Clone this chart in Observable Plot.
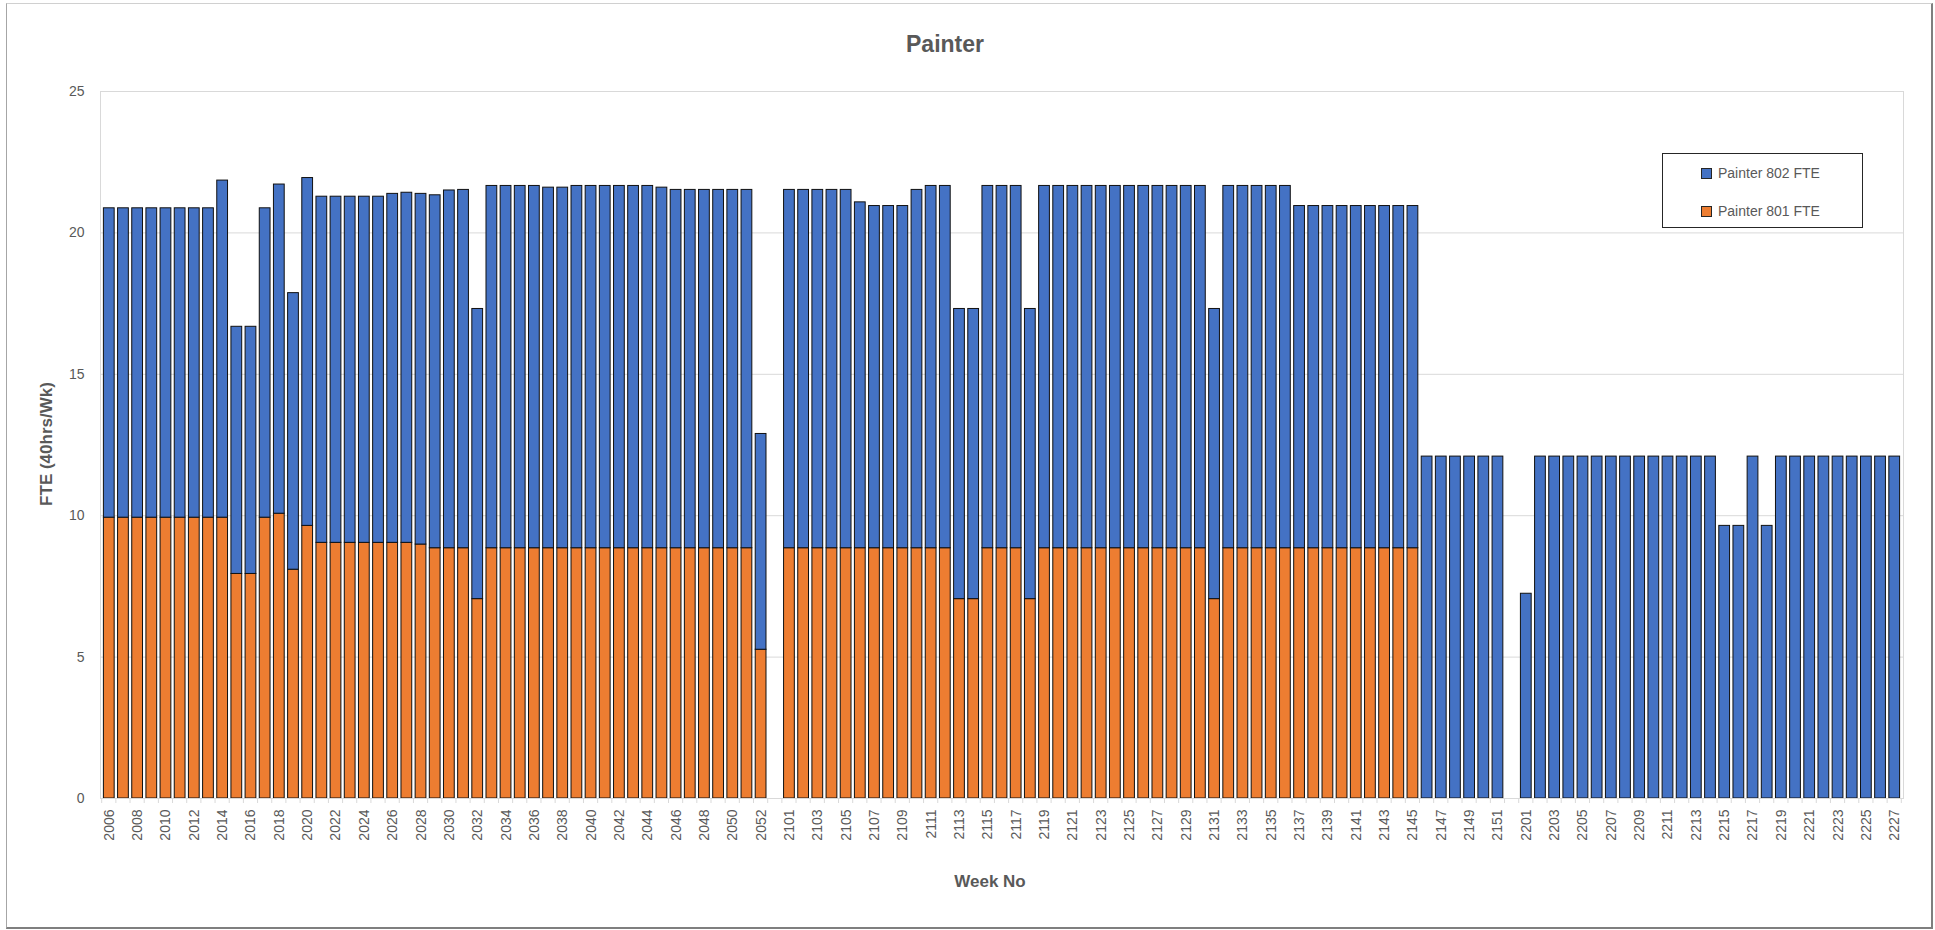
<!DOCTYPE html>
<html>
<head>
<meta charset="utf-8">
<script src="https://cdn.jsdelivr.net/npm/d3@7"></script>
<script src="https://cdn.jsdelivr.net/npm/@observablehq/plot@0.6"></script>
<style>
  html, body { margin: 0; padding: 0; background: #fff; }
  body { width: 1935px; height: 930px; overflow: hidden; position: relative; font-family: "Liberation Sans", Arial, sans-serif; }
  #frame { position: absolute; left: 6px; top: 3px; width: 1927px; height: 926px; box-sizing: border-box;
           border-left: 1px solid #a6a6a6; border-top: 1px solid #d0d0d0; border-right: 2px solid #7f7f7f; border-bottom: 2px solid #7f7f7f; }
  #chart { position: absolute; left: 0; top: 0; }
  .txt { position: absolute; color: #595959; white-space: nowrap; }
  #title { left: 945px; top: 44px; transform: translate(-50%, -50%); font-size: 23px; font-weight: bold; }
  #xtitle { left: 990px; top: 882px; transform: translate(-50%, -50%); font-size: 17px; font-weight: bold; }
  #ytitle { left: 47px; top: 444px; transform: translate(-50%, -50%) rotate(-90deg); font-size: 17px; font-weight: bold; }
  #legend { position: absolute; left: 1662px; top: 153px; width: 201px; height: 75px; box-sizing: border-box; border: 1px solid #262626; background: #fff; }
  .item { position: absolute; left: 38px; height: 16px; display: flex; align-items: center; font-size: 14px; color: #595959; }
  .sw { width: 9px; height: 9px; border: 1px solid #262626; margin-right: 6px; }
</style>
</head>
<body>
<div id="frame"></div>
<div id="chart"></div>
<div id="title" class="txt">Painter</div>
<div id="xtitle" class="txt">Week No</div>
<div id="ytitle" class="txt">FTE (40hrs/Wk)</div>
<div id="legend"></div>
<script>
// Week numbers (YYWW): 2020 has 53 weeks, 2021 has 52
const weeks2020 = [2006,2007,2008,2009,2010,2011,2012,2013,2014,2015,2016,2017,2018,2019,2020,2021,2022,2023,2024,2025,2026,2027,2028,2029,2030,2031,2032,2033,2034,2035,2036,2037,2038,2039,2040,2041,2042,2043,2044,2045,2046,2047,2048,2049,2050,2051,2052,2053];
const weeks2021 = [2101,2102,2103,2104,2105,2106,2107,2108,2109,2110,2111,2112,2113,2114,2115,2116,2117,2118,2119,2120,2121,2122,2123,2124,2125,2126,2127,2128,2129,2130,2131,2132,2133,2134,2135,2136,2137,2138,2139,2140,2141,2142,2143,2144,2145,2146,2147,2148,2149,2150,2151,2152];
const weeks2022 = [2201,2202,2203,2204,2205,2206,2207,2208,2209,2210,2211,2212,2213,2214,2215,2216,2217,2218,2219,2220,2221,2222,2223,2224,2225,2226,2227];

// Painter 801 FTE
const p801_2020 = [9.93,9.93,9.93,9.93,9.93,9.93,9.93,9.93,
  9.93,7.94,7.94,9.93,10.07,8.09,9.64,
  9.04,9.04,9.04,9.04,9.04,9.04,9.04,
  8.98,8.85,8.85,8.85,7.05,
  8.85,8.85,8.85,8.85,8.85,8.85,8.85,8.85,8.85,8.85,8.85,8.85,8.85,8.85,8.85,8.85,8.85,8.85,8.85,
  5.26,0];
const p801_2021 = [8.85,8.85,8.85,8.85,8.85,8.85,8.85,8.85,8.85,8.85,8.85,8.85,
  7.05,7.05,8.85,8.85,8.85,7.05,
  8.85,8.85,8.85,8.85,8.85,8.85,8.85,8.85,8.85,8.85,8.85,8.85,
  7.05,
  8.85,8.85,8.85,8.85,8.85,8.85,8.85,8.85,8.85,8.85,8.85,8.85,8.85,8.85,
  0,0,0,0,0,0,0];
const p801_2022 = [0,0,0,0,0,0,0,0,0,0,0,0,0,0,0,0,0,0,0,0,0,0,0,0,0,0,0];

// Painter 802 FTE
const p802_2020 = [10.94,10.94,10.94,10.94,10.94,10.94,10.94,10.94,
  11.92,8.74,8.74,10.94,11.64,9.78,12.30,
  12.24,12.24,12.24,12.24,12.24,12.34,12.38,
  12.40,12.48,12.65,12.67,10.26,
  12.81,12.81,12.81,12.81,12.75,12.75,12.81,12.81,12.81,12.81,12.81,12.81,12.75,12.67,12.67,12.67,12.67,12.67,12.67,
  7.63,0];
const p802_2021 = [12.67,12.67,12.67,12.67,12.67,12.23,12.10,12.10,12.10,12.67,12.81,12.81,
  10.26,10.26,12.81,12.81,12.81,10.26,
  12.81,12.81,12.81,12.81,12.81,12.81,12.81,12.81,12.81,12.81,12.81,12.81,
  10.26,
  12.81,12.81,12.81,12.81,12.81,
  12.10,12.10,12.10,12.10,12.10,12.10,12.10,12.10,12.10,
  12.09,12.09,12.09,12.09,12.09,12.09,0];
const p802_2022 = [7.24,12.09,12.09,12.09,12.09,12.09,12.09,12.09,12.09,12.09,12.09,12.09,12.09,12.09,
  9.64,9.64,12.09,9.64,
  12.09,12.09,12.09,12.09,12.09,12.09,12.09,12.09,12.09];

const yTicks = [0, 5, 10, 15, 20, 25];
const seriesNames = ["Painter 801 FTE", "Painter 802 FTE"];
const seriesColors = ["#ED7D31", "#4472C4"];

const weeks = [...weeks2020, ...weeks2021, ...weeks2022].map(String);
const p801 = [...p801_2020, ...p801_2021, ...p801_2022];
const p802 = [...p802_2020, ...p802_2021, ...p802_2022];
const xTicks = weeks.filter((w, i) => i % 2 === 0);

const rows = [];
weeks.forEach((w, i) => {
  rows.push({week: w, series: seriesNames[0], value: p801[i]});
  rows.push({week: w, series: seriesNames[1], value: p802[i]});
});

const plot = Plot.plot({
  width: 1935,
  height: 930,
  marginLeft: 100,
  marginRight: 32,
  marginTop: 91,
  marginBottom: 132,
  style: {fontFamily: "'Liberation Sans', Arial, sans-serif", fontSize: "14px", color: "#595959", background: "transparent", overflow: "visible"},
  x: {domain: weeks, padding: 0.24, round: false, ticks: xTicks, label: null, tickSize: 0, tickRotate: -90, tickPadding: 11},
  y: {domain: [0, 25], ticks: yTicks, label: null, tickSize: 0, tickPadding: 16},
  color: {domain: seriesNames, range: seriesColors},
  marks: [
    Plot.ruleY([5, 10, 15, 20], {stroke: "#d9d9d9", strokeWidth: 1}),
    Plot.frame({stroke: "#d9d9d9"}),
    Plot.barY(rows.filter(d => d.value > 0), {x: "week", y: "value", fill: "series", stroke: "#111", strokeWidth: 1}),
    Plot.ruleY([0], {stroke: "#d9d9d9", strokeWidth: 1})
  ]
});
document.getElementById("chart").appendChild(plot);

// category boundary tick marks below the axis, from the x scale
const xs = plot.scale("x");
const ys = plot.scale("y");
const gap = (xs.step - xs.bandwidth) / 2;
const bounds = weeks.map(w => xs.apply(w) - gap);
bounds.push(xs.apply(weeks[weeks.length - 1]) + xs.bandwidth + gap);
const y0 = ys.apply(0);
d3.select(plot).append("g").selectAll("line").data(bounds).join("line")
  .attr("x1", d => d).attr("x2", d => d)
  .attr("y1", y0).attr("y2", y0 + 5)
  .attr("stroke", "#d9d9d9").attr("stroke-width", 1);

// legend (802 listed first, as in the original)
const legend = d3.select("#legend");
[[seriesNames[1], seriesColors[1], 11], [seriesNames[0], seriesColors[0], 49]].forEach(([name, col, top]) => {
  const it = legend.append("div").attr("class", "item").style("top", top + "px");
  it.append("div").attr("class", "sw").style("background", col);
  it.append("span").text(name);
});
</script>
</body>
</html>
